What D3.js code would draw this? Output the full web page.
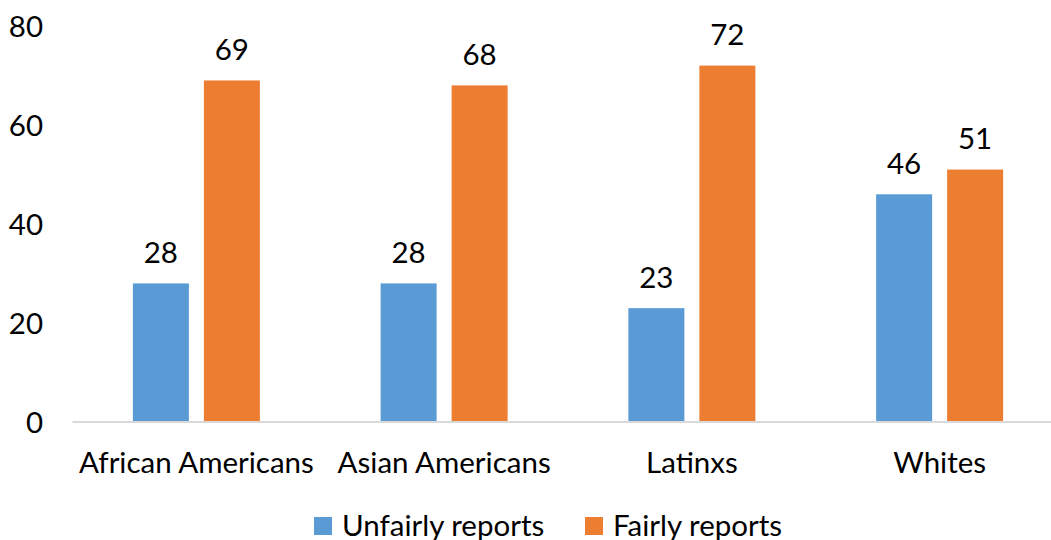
<!DOCTYPE html>
<html>
<head>
<meta charset="utf-8">
<script src="https://cdn.jsdelivr.net/npm/d3@7"></script>
<style>
  html, body { margin: 0; padding: 0; background: #fff; }
  svg { display: block; font-family: Lato, "Open Sans", sans-serif; }
</style>
</head>
<body>
<svg id="chart" width="1051" height="540"></svg>
<script>
// Categories and series
const categories = ["African Americans", "Asian Americans", "Latinxs", "Whites"];
const seriesNames = ["Unfairly reports", "Fairly reports"];
const unfairly = [28, 28, 23, 46];
const fairly = [69, 68, 72, 51];
const yTicks = [0, 20, 40, 60, 80];
const colors = ["#5B9BD5", "#ED7D31"];

const rows = categories.map((c, i) => ({ category: c, values: [unfairly[i], fairly[i]] }));

const svg = d3.select("#chart");
const fontSize = 29.5;

const x0 = d3.scaleBand().domain(categories).range([72.5, 1063.5]).padding(0);
const bw = x0.bandwidth();
const x1 = d3.scaleBand().domain(seriesNames)
  .range([bw / 2 - 63.5, bw / 2 + 63.5])
  .paddingInner(15 / 71).paddingOuter(0);
const y = d3.scaleLinear().domain([0, 80]).range([422, 26]);

// Value axis labels (no line, no ticks)
const yAxis = svg.append("g")
  .attr("transform", "translate(43,0)")
  .call(d3.axisLeft(y).tickValues(yTicks).tickSize(0).tickPadding(0));
yAxis.select(".domain").remove();
yAxis.selectAll("text")
  .attr("font-family", "Lato, sans-serif")
  .attr("font-size", fontSize)
  .attr("fill", "#000")
  .attr("dy", "0.36em");

// Bars
const groups = svg.append("g").selectAll("g")
  .data(rows).join("g")
  .attr("transform", d => `translate(${x0(d.category)},0)`);

groups.selectAll("rect")
  .data(d => d.values.map((v, i) => ({ key: seriesNames[i], value: v, i })))
  .join("rect")
  .attr("x", d => x1(d.key))
  .attr("width", x1.bandwidth())
  .attr("y", d => y(d.value))
  .attr("height", d => y(0) - y(d.value))
  .attr("fill", d => colors[d.i]);

// Data labels
groups.selectAll("text.val")
  .data(d => d.values.map((v, i) => ({ key: seriesNames[i], value: v })))
  .join("text")
  .attr("class", "val")
  .attr("x", d => x1(d.key) + x1.bandwidth() / 2)
  .attr("y", d => y(d.value) - 20.5)
  .attr("text-anchor", "middle")
  .attr("font-size", fontSize)
  .attr("fill", "#000")
  .text(d => d.value);

// Category axis
const xAxis = svg.append("g")
  .attr("transform", `translate(0,${y(0)})`)
  .call(d3.axisBottom(x0).tickSize(0).tickPadding(0));
xAxis.select(".domain").attr("stroke", "#D9D9D9").attr("stroke-width", 2)
  .attr("d", `M72.5,0H1063.5`);
xAxis.selectAll("text")
  .attr("font-family", "Lato, sans-serif")
  .attr("font-size", fontSize)
  .attr("fill", "#000")
  .attr("dy", 0)
  .attr("y", 51);

// Legend
const legendItems = [
  { name: seriesNames[0], color: colors[0], x: 314 },
  { name: seriesNames[1], color: colors[1], x: 585 }
];
const legend = svg.append("g").selectAll("g").data(legendItems).join("g")
  .attr("transform", d => `translate(${d.x},517)`);
legend.append("rect").attr("width", 18).attr("height", 18).attr("fill", d => d.color);
legend.append("text")
  .attr("x", 28).attr("y", 19)
  .attr("font-size", fontSize)
  .attr("fill", "#000")
  .text(d => d.name);
</script>
</body>
</html>
